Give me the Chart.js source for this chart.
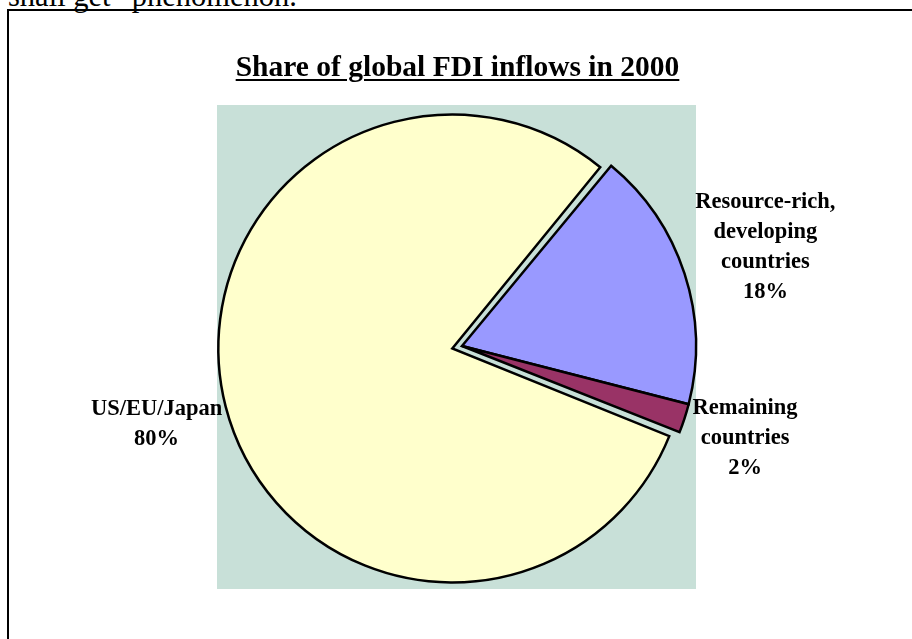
<!DOCTYPE html>
<html>
<head>
<meta charset="utf-8">
<script src="https://cdn.jsdelivr.net/npm/chart.js@4.4.1/dist/chart.umd.min.js"></script>
<style>
  html, body { margin: 0; padding: 0; width: 912px; height: 639px; overflow: hidden; background: #fff; }
  #lead { position: absolute; left: 8px; top: -19px; font: 30.5px/31px "Liberation Serif", "Times New Roman", serif; white-space: nowrap; color: #000; }
  #frame { position: absolute; left: 7px; top: 9px; width: 1000px; height: 1000px; border: 2px solid #000; }
  #title { position: absolute; left: 0; top: 52px; width: 915px; text-align: center;
           font: bold 29.5px/29px "Liberation Serif", "Times New Roman", serif; color: #000; }
  #title span { text-decoration: underline; text-decoration-thickness: 2px; text-underline-offset: 3px; }
  #chart { position: absolute; left: 0; top: 0; }
</style>
</head>
<body>
<div id="lead">shall get “phenomenon.”</div>
<div id="frame"></div>
<canvas id="chart" width="912" height="639"></canvas>
<div id="title"><span>Share of global FDI inflows in 2000</span></div>
<script>
// Regions and their share of world FDI inflows (per cent)
const regions = ['Resource-rich, developing countries', 'Remaining countries', 'US/EU/Japan'];
const labelLines = [['Resource-rich,', 'developing', 'countries'], ['Remaining', 'countries'], ['US/EU/Japan']];
const shares = [18, 2, 80];
const sliceColors = ['#9999FF', '#993366', '#FFFFCC'];

const LABEL_FONT = 'bold 22.5px "Liberation Serif", "Times New Roman", serif';
const LINE_H = 30;

// Chart.js grows an exploded slice's radius as well as moving it;
// keep every slice the same size so the explosion is a pure shift.
function radiusGrowth(arc) {
  const off = (arc.options.offset || 0) / 4;
  const fix = 1 - Math.sin(Math.min(Math.PI, arc.circumference || 0));
  return off * fix;
}

const explodeShift = {
  id: 'explodeShift',
  afterDatasetUpdate(chart, args) {
    const meta = chart.getDatasetMeta(args.index);
    meta.data.forEach(arc => {
      arc.outerRadius -= radiusGrowth(arc);
    });
  }
};

// Shaded plot area behind the pie
const plotBackground = {
  id: 'plotBackground',
  beforeDraw(chart) {
    const ctx = chart.ctx;
    ctx.save();
    ctx.fillStyle = '#C8E0D8';
    ctx.fillRect(217, 105, 479, 484);
    ctx.restore();
  }
};

// Category name and percentage placed just outside each slice
const outsideLabels = {
  id: 'outsideLabels',
  afterDatasetsDraw(chart) {
    const ctx = chart.ctx;
    const meta = chart.getDatasetMeta(0);
    ctx.save();
    ctx.font = LABEL_FONT;
    ctx.fillStyle = '#000';
    ctx.textAlign = 'center';
    ctx.textBaseline = 'middle';
    meta.data.forEach((arc, i) => {
      const mid = (arc.startAngle + arc.endAngle) / 2;
      const shift = (arc.options.offset || 0) / 4;
      const r = arc.outerRadius + radiusGrowth(arc);
      const cx = arc.x + Math.cos(mid) * shift;
      const cy = arc.y + Math.sin(mid) * shift;
      const lines = labelLines[i].concat([shares[i] + '%']);
      const hw = Math.max(...lines.map(t => ctx.measureText(t).width)) / 2;
      const hh = ((lines.length - 1) * LINE_H + 16) / 2;
      const dx = Math.cos(mid), dy = Math.sin(mid);
      const dist = r + 2 + hw * Math.abs(dx) + hh * Math.abs(dy);
      const lx = cx + dx * dist;
      const ly = cy + dy * dist;
      lines.forEach((t, k) => {
        ctx.fillText(t, lx, ly - (lines.length - 1) * LINE_H / 2 + k * LINE_H);
      });
    });
    ctx.restore();
  }
};

new Chart(document.getElementById('chart'), {
  type: 'pie',
  data: {
    labels: regions,
    datasets: [{
      data: shares,
      backgroundColor: sliceColors,
      borderColor: '#000',
      borderWidth: 2.5,
      borderJoinStyle: 'miter',
      offset: ctx => (ctx.dataIndex === 2 ? 40 : 0)
    }]
  },
  options: {
    responsive: false,
    devicePixelRatio: 1,
    animation: false,
    rotation: 39.6,
    radius: 234,
    layout: { padding: { left: 230, right: 218, top: 112, bottom: 59 } },
    plugins: {
      legend: { display: false },
      title: { display: false },
      tooltip: { enabled: false }
    }
  },
  plugins: [explodeShift, plotBackground, outsideLabels]
});
</script>
</body>
</html>
